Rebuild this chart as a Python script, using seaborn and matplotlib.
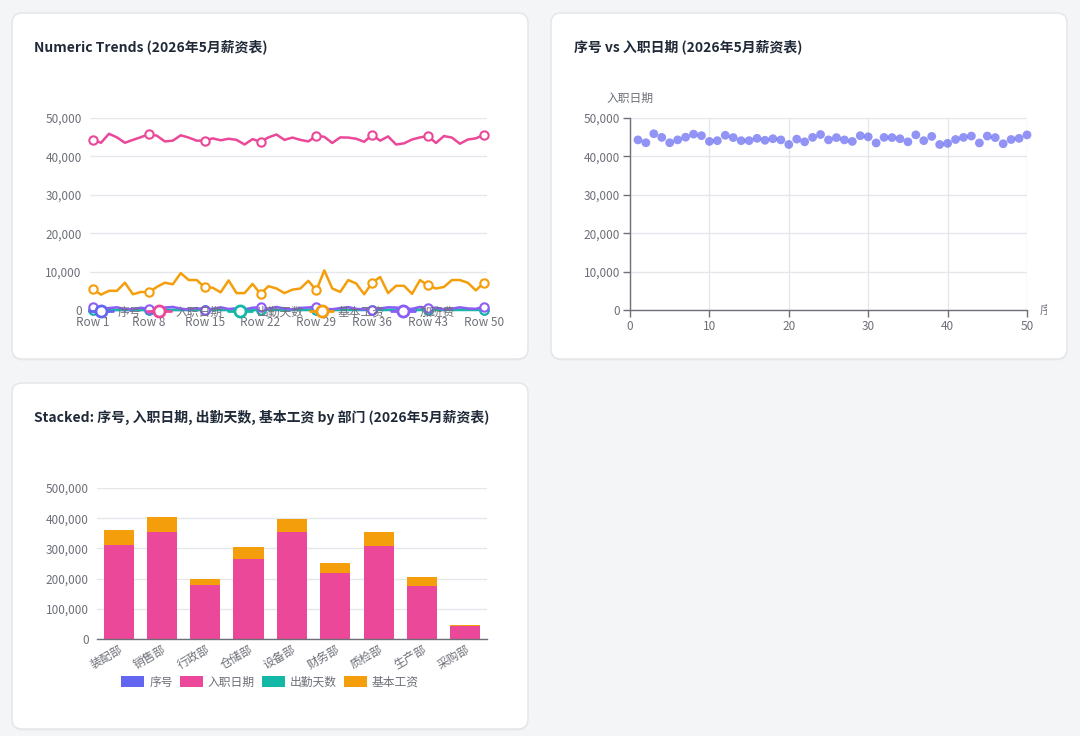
import numpy as np
import pandas as pd
import matplotlib
matplotlib.use('Agg')
import matplotlib.pyplot as plt
import seaborn as sns
from matplotlib.patches import FancyBboxPatch, Patch
from matplotlib.lines import Line2D
from matplotlib.ticker import FuncFormatter
from matplotlib.transforms import IdentityTransform, Bbox

# ---- data ----
xuhao = [1, 2, 3, 4, 5, 6, 7, 8, 9, 10,
         11, 12, 13, 14, 15, 16, 17, 18, 19, 20,
         21, 22, 23, 24, 25, 26, 27, 28, 29, 30,
         31, 32, 33, 34, 35, 36, 37, 38, 39, 40,
         41, 42, 43, 44, 45, 46, 47, 48, 49, 50]
ruzhi = [44300, 43550, 45900, 44950, 43550, 44300, 45000, 45800, 45400, 43900,
         44100, 45500, 44900, 44100, 44100, 44700, 44200, 44600, 44300, 43100,
         44500, 43800, 44950, 45700, 44300, 44900, 44300, 43900, 45400, 45100,
         43500, 44950, 44900, 44600, 43800, 45600, 44100, 45200, 43100, 43400,
         44400, 44950, 45300, 43500, 45300, 44900, 43300, 44400, 44700, 45600]
chuqin = [22, 21, 22, 23, 22, 20, 22, 21, 23, 22,
          22, 21, 22, 22, 20, 23, 22, 21, 22, 22,
          23, 22, 21, 22, 22, 20, 22, 23, 22, 21,
          22, 22, 21, 23, 22, 22, 20, 22, 21, 22,
          23, 22, 22, 21, 22, 20, 22, 23, 22, 21]
jiben = [5400, 4000, 5000, 5000, 7100, 4100, 4700, 4600, 6000, 7100,
         6700, 9600, 7800, 7800, 5900, 5800, 4600, 7700, 4400, 4400,
         6800, 4200, 6200, 5600, 4400, 5300, 5600, 7600, 5100, 10300,
         5600, 4700, 7800, 6900, 4100, 7100, 8600, 4400, 6300, 6300,
         4200, 7800, 6400, 5600, 6000, 7800, 7800, 7100, 5100, 7100]
jiaban = [860, 300, 500, 700, 200, 150, 600, 260, 400, 650,
          800, 350, 120, 500, 100, 300, 700, 250, 450, 150,
          600, 700, 300, 800, 350, 100, 550, 650, 860, 300,
          200, 500, 750, 300, 150, 100, 400, 700, 650, 250,
          300, 800, 500, 600, 150, 350, 700, 400, 300, 860]
row_ticks = [1, 8, 15, 22, 29, 36, 43, 50]
row_tick_labels = ['Row 1', 'Row 8', 'Row 15', 'Row 22', 'Row 29', 'Row 36', 'Row 43', 'Row 50']

depts = ['装配部', '销售部', '行政部', '仓储部', '设备部', '财务部', '质检部', '生产部', '采购部']
sum_xuhao = [180, 200, 95, 150, 210, 130, 175, 100, 35]
sum_ruzhi = [311000, 354000, 178000, 264000, 354000, 220000, 309000, 174000, 42300]
sum_chuqin = [154, 176, 88, 132, 176, 110, 154, 88, 22]
sum_jiben = [49000, 49000, 22000, 42000, 42000, 32000, 46000, 31000, 5000]

series_names = ['序号', '入职日期', '出勤天数', '基本工资', '加班费']
colors = {'序号': '#6366f1', '入职日期': '#ec4899', '出勤天数': '#14b8a6',
          '基本工资': '#f59e0b', '加班费': '#8b5cf6'}

# ---- style ----
sns.set_theme(style='white')
plt.rcParams['font.family'] = ['Noto Sans CJK SC', 'DejaVu Sans']
TXT = '#6e7079'
GRID = '#e5e7eb'
TITLE = '#1f2937'

W, H = 1080, 736
fig = plt.figure(figsize=(W / 100, H / 100), dpi=100)
fig.patch.set_facecolor('#f4f5f7')


def frac(x, y, w, h):
    return [x / W, 1 - (y + h) / H, w / W, h / H]


def card(x, y, w, h):
    sh = FancyBboxPatch((x, H - y - h - 1.5), w, h, boxstyle='round,pad=0,rounding_size=10',
                        transform=IdentityTransform(), facecolor='#000000', alpha=0.04,
                        edgecolor='none', zorder=-3)
    fig.add_artist(sh)
    p = FancyBboxPatch((x, H - y - h), w, h, boxstyle='round,pad=0,rounding_size=10',
                       transform=IdentityTransform(), facecolor='white',
                       edgecolor='#e3e5e8', linewidth=1, zorder=-2)
    fig.add_artist(p)


card(12, 13, 516, 346)
card(551, 13, 516, 346)
card(12, 383, 516, 346)

fmt = FuncFormatter(lambda v, p: f'{v:,.0f}')

# ---- chart 1: numeric trends ----
ax1 = fig.add_axes(frac(90, 118, 397, 192))
ax1.set_facecolor('none')
lines_data = {'序号': xuhao, '入职日期': ruzhi, '出勤天数': chuqin, '基本工资': jiben, '加班费': jiaban}
mark_idx = [xuhao.index(t) for t in row_ticks]
for name in series_names:
    c = colors[name]
    sns.lineplot(x=xuhao, y=lines_data[name], ax=ax1, color=c, linewidth=1.8,
                 estimator=None, sort=False, marker='o', markevery=mark_idx, markersize=6,
                 markerfacecolor='white', markeredgecolor=c, markeredgewidth=1.5, clip_on=False)
ax1.set_xlim(0.62, 50.4)
ax1.set_ylim(0, 50000)
ax1.set_yticks([0, 10000, 20000, 30000, 40000, 50000])
ax1.yaxis.set_major_formatter(fmt)
ax1.set_xticks(row_ticks)
ax1.set_xticklabels(row_tick_labels)
ax1.grid(axis='y', color=GRID, linewidth=1)
ax1.set_axisbelow(True)
for s in ax1.spines.values():
    s.set_visible(False)
ax1.tick_params(axis='both', length=0, labelsize=8.5, labelcolor=TXT)
ax1.tick_params(axis='x', pad=4)
ax1.tick_params(axis='y', pad=6)
ax1.set_xlabel('')
ax1.set_ylabel('')

handles1 = [Line2D([0], [0], color=colors[n], lw=2, marker='o', markersize=8,
                   markerfacecolor='white', markeredgecolor=colors[n], markeredgewidth=2)
            for n in series_names]
fig.legend(handles1, series_names, loc='center', bbox_to_anchor=(272 / W, 1 - 312 / H),
           ncol=5, frameon=False, fontsize=8.5, handlelength=2.0, handletextpad=0.4,
           columnspacing=0.5, labelcolor=TXT, borderpad=0)

fig.text(34 / W, 1 - 47 / H, 'Numeric Trends (2026年5月薪资表)', fontsize=10,
         fontweight='bold', color=TITLE, va='center', ha='left')

# ---- chart 2: scatter ----
ax2 = fig.add_axes(frac(630, 118, 397, 192))
ax2.set_facecolor('none')
sns.scatterplot(x=xuhao, y=ruzhi, ax=ax2, color='#6366f1', alpha=0.7, s=40,
                edgecolor='none', clip_on=False, zorder=3)
ax2.set_xlim(0, 50)
ax2.set_ylim(0, 50000)
ax2.set_xticks([0, 10, 20, 30, 40, 50])
ax2.set_yticks([0, 10000, 20000, 30000, 40000, 50000])
ax2.yaxis.set_major_formatter(fmt)
ax2.grid(True, color=GRID, linewidth=1)
ax2.set_axisbelow(True)
for k in ['top', 'right']:
    ax2.spines[k].set_visible(False)
for k in ['left', 'bottom']:
    ax2.spines[k].set_color(TXT)
    ax2.spines[k].set_linewidth(1)
ax2.tick_params(axis='both', length=5, width=1, color=TXT, labelsize=8.5, labelcolor=TXT,
                direction='out', pad=2)
ax2.tick_params(left=True, bottom=True)
ax2.set_xlabel('')
ax2.set_ylabel('')
fig.text(630 / W, 1 - 98 / H, '入职日期', fontsize=8.5, color=TXT, ha='center', va='center')
xname = fig.text(1040 / W, 1 - 310 / H, '序号', fontsize=8.5, color=TXT, ha='left', va='center')
xname.set_clip_box(Bbox.from_extents(551, 0, 1047, H))
fig.text(574 / W, 1 - 47 / H, '序号 vs 入职日期 (2026年5月薪资表)', fontsize=10,
         fontweight='bold', color=TITLE, va='center', ha='left')

# ---- chart 3: stacked bars ----
ax3 = fig.add_axes(frac(97, 488, 390, 151))
ax3.set_facecolor('none')
stack_names = ['序号', '入职日期', '出勤天数', '基本工资']
stack_vals = np.array([sum_xuhao, sum_ruzhi, sum_chuqin, sum_jiben], dtype=float)
cum = np.cumsum(stack_vals, axis=0)
bar_df = pd.DataFrame({
    'dept': np.tile(depts, len(stack_names)),
    'series': np.repeat(stack_names, len(depts)),
    'top': cum.ravel(),
})
# cumulative layers overlaid; the tiny 出勤天数 band goes underneath the rest
draw_order = ['出勤天数', '基本工资', '入职日期', '序号']
sns.barplot(data=bar_df, x='dept', y='top', hue='series', order=depts,
            hue_order=draw_order, palette=colors, dodge=False, saturation=1,
            width=0.7, linewidth=0, errorbar=None, legend=False, ax=ax3)
ax3.set_ylim(0, 500000)
ax3.set_xlim(-0.5, len(depts) - 0.5)
ax3.set_yticks([0, 100000, 200000, 300000, 400000, 500000])
ax3.yaxis.set_major_formatter(fmt)
ax3.grid(axis='y', color=GRID, linewidth=1)
ax3.set_axisbelow(True)
for k in ['top', 'right', 'left']:
    ax3.spines[k].set_visible(False)
ax3.spines['bottom'].set_color(TXT)
ax3.spines['bottom'].set_linewidth(1)
ax3.tick_params(axis='both', length=0, labelsize=8.5, labelcolor=TXT)
ax3.tick_params(axis='y', pad=6)
ax3.tick_params(axis='x', pad=3)
plt.setp(ax3.get_xticklabels(), rotation=30, ha='right', rotation_mode='anchor')
ax3.set_xlabel('')
ax3.set_ylabel('')

handles3 = [Patch(facecolor=colors[n], edgecolor='none') for n in stack_names]
fig.legend(handles3, stack_names, loc='center', bbox_to_anchor=(270 / W, 1 - 682 / H),
           ncol=4, frameon=False, fontsize=8.5, handlelength=1.95, handleheight=1.0,
           handletextpad=0.42, columnspacing=0.6, labelcolor=TXT, borderpad=0)
fig.text(34 / W, 1 - 417 / H, 'Stacked: 序号, 入职日期, 出勤天数, 基本工资 by 部门 (2026年5月薪资表)',
         fontsize=10, fontweight='bold', color=TITLE, va='center', ha='left')

fig.savefig('out.png', dpi=100, facecolor=fig.get_facecolor())
